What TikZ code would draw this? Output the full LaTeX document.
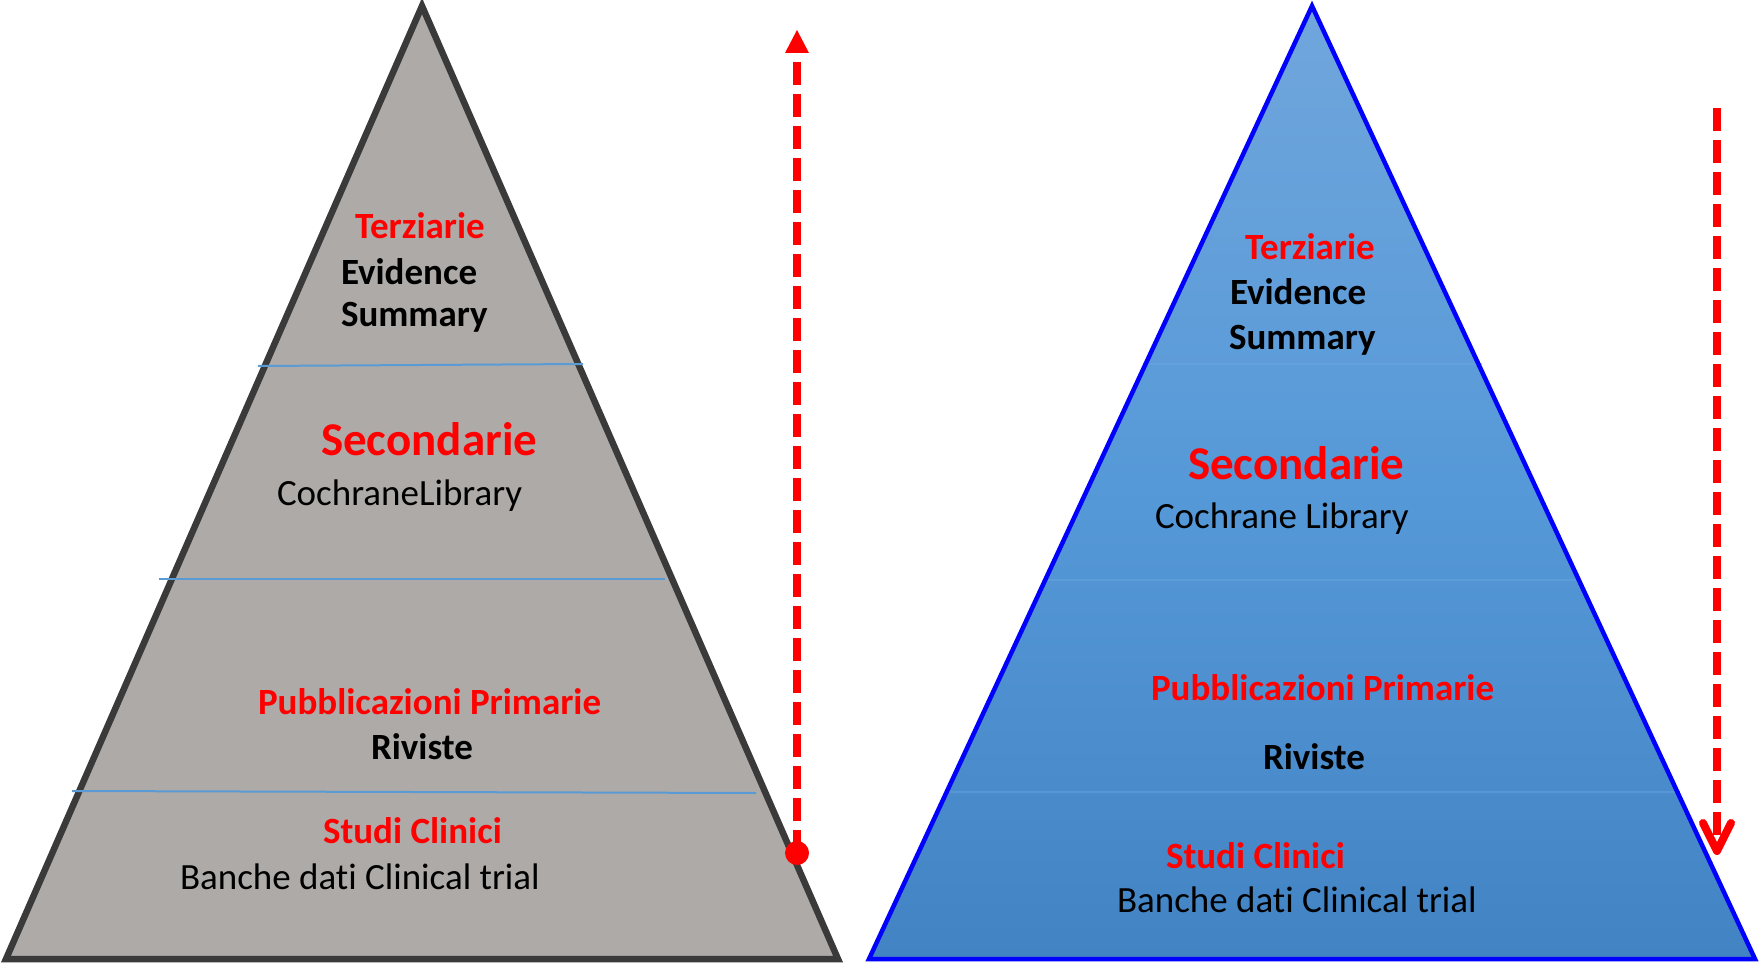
\documentclass[tikz,border=0pt]{standalone}
\usepackage{fontspec}
\setmainfont[Ligatures=NoCommon]{Carlito}
\definecolor{lfill}{HTML}{AEAAA8}
\definecolor{lborder}{HTML}{3A3A3A}
\definecolor{sepblue}{HTML}{5B9BD5}
\definecolor{rtop}{HTML}{70A6DC}
\definecolor{rmid}{HTML}{5699D8}
\definecolor{rbot}{HTML}{4283C4}
\definecolor{rline}{HTML}{6AA8E0}
\definecolor{arrred}{HTML}{FF0000}
\tikzset{
  lbl/.style={anchor=base west, inner sep=0pt, outer sep=0pt},
  rb/.style={lbl, text=red, font=\fontsize{37}{44}\selectfont\bfseries},
  bb/.style={lbl, text=black, font=\fontsize{37}{44}\selectfont\bfseries},
  nb/.style={lbl, text=black, font=\fontsize{37}{44}\selectfont},
  big/.style={lbl, text=red, font=\fontsize{47}{56}\selectfont\bfseries},
  sepline/.style={draw=sepblue, line width=2pt},
  rsep/.style={draw=rline, line width=2pt, opacity=0.45},
  dasharrow/.style={draw=arrred, line width=8pt, dash pattern=on 23pt off 9pt}
}
\begin{document}
\begin{tikzpicture}[x=1pt,y=-1pt]
\useasboundingbox (0,0) rectangle (1759,963);
\fill[white] (0,0) rectangle (1759,963);
% ---------------- left pyramid
\coordinate (LA) at (422,6);
\coordinate (LL) at (6,959);
\coordinate (LR) at (838,959);
\fill[lfill] (LA) -- (LL) -- (LR) -- cycle;
\draw[draw=lborder, line width=6.5pt, line join=miter] (LA) -- (LL) -- (LR) -- cycle;
\coordinate (ls1a) at (258,366); \coordinate (ls1b) at (583,364);
\coordinate (ls2a) at (159,579); \coordinate (ls2b) at (665,579);
\coordinate (ls3a) at (72,791);  \coordinate (ls3b) at (756,793);
\draw[sepline] (ls1a) -- (ls1b);
\draw[sepline] (ls2a) -- (ls2b);
\draw[sepline] (ls3a) -- (ls3b);
\node[rb] (lt1) at (355,238) {Terziarie};
\node[bb] (lt2) at (341,284) {Evidence};
\node[bb] (lt3) at (341,326) {Summary};
\node[big] (lt4) at (321,455) {Secondarie};
\node[nb] (lt5) at (277,505) {CochraneLibrary};
\node[rb] (lt6) at (258,714) {Pubblicazioni Primarie};
\node[bb] (lt7) at (371,759) {Riviste};
\node[rb] (lt8) at (323,843) {Studi Clinici};
\node[nb] (lt9) at (180,889) {Banche dati Clinical trial};
% ---------------- right pyramid
\coordinate (RA) at (1312,6);
\coordinate (RL) at (869,959);
\coordinate (RR) at (1755,959);
\shade[top color=rtop, bottom color=rbot, middle color=rmid] (RA) -- (RL) -- (RR) -- cycle;
\coordinate (rs1a) at (1147,364); \coordinate (rs1b) at (1482,364);
\coordinate (rs2a) at (1047,580); \coordinate (rs2b) at (1578,580);
\coordinate (rs3a) at (945,792);  \coordinate (rs3b) at (1680,792);
\draw[rsep] (rs1a) -- (rs1b);
\draw[rsep] (rs2a) -- (rs2b);
\draw[rsep] (rs3a) -- (rs3b);
\draw[draw=blue, line width=4.5pt, line join=miter] (RA) -- (RL) -- (RR) -- cycle;
\node[rb] (rt1) at (1245,259) {Terziarie};
\node[bb] (rt2) at (1230,304) {Evidence};
\node[bb] (rt3) at (1229,349) {Summary};
\node[big] (rt4) at (1188,479) {Secondarie};
\node[nb] (rt5) at (1155,528) {Cochrane Library};
\node[rb] (rt6) at (1151,700) {Pubblicazioni Primarie};
\node[bb] (rt7) at (1263,769) {Riviste};
\node[rb] (rt8) at (1166,868) {Studi Clinici};
\node[nb] (rt9) at (1117,912) {Banche dati Clinical trial};
% ---------------- left arrow (up)
\coordinate (ldot) at (797,853);
\coordinate (lhb) at (797,53);
\coordinate (ltip) at (797,30);
\coordinate (lhl) at (785,53);
\coordinate (lhr) at (809,53);
\draw[dasharrow, dash phase=23pt] (lhb) -- (ldot);
\fill[arrred] (ltip) -- (lhl) -- (lhr) -- cycle;
\fill[arrred] (ldot) circle[radius=12pt];
% ---------------- right arrow (down)
\coordinate (rtopc) at (1717,108);
\coordinate (rtip) at (1717,851);
\coordinate (rarml) at (1703,823);
\coordinate (rarmr) at (1731,823);
\draw[dasharrow] (rtopc) -- (rtip);
\draw[draw=arrred, line width=8pt, line cap=round, line join=round] (rarml) -- (rtip) -- (rarmr);
\end{tikzpicture}
\end{document}
